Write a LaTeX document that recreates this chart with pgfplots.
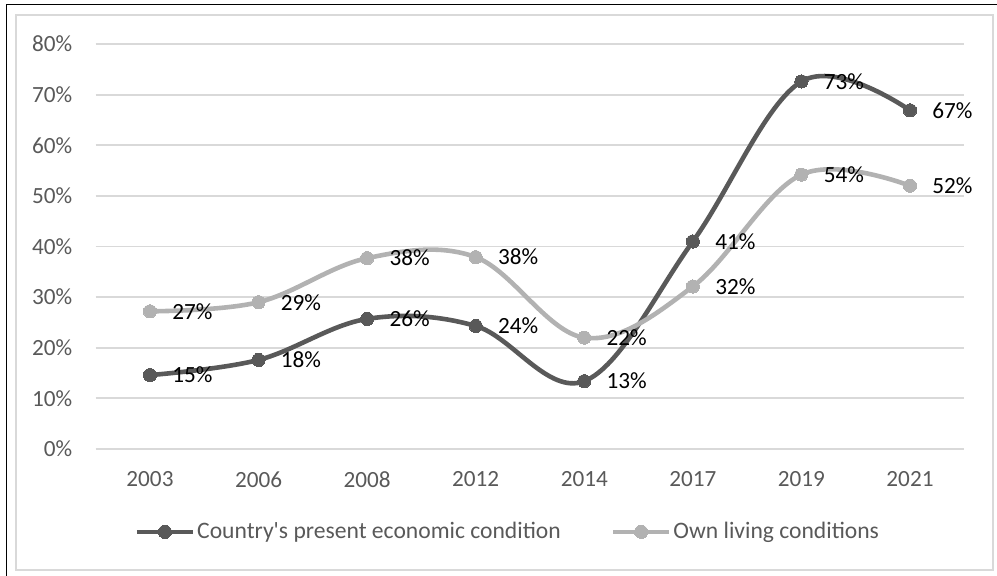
\documentclass[border=0pt]{standalone}
\usepackage{pgfplots}
\pgfplotsset{compat=1.18}
\usepackage{pgfplotstable}
\usepackage{fontspec}
\setmainfont{Carlito}
\newfontfamily\rawfont{Carlito}[Ligatures=ResetAll]
\definecolor{darkline}{RGB}{89,89,89}
\definecolor{lightline}{RGB}{178,178,178}
\definecolor{gridc}{RGB}{217,217,217}
\definecolor{txt}{RGB}{89,89,89}

\pgfplotstableread{
x y lab
0 14.6 15\%
1 17.6 18\%
2 25.7 26\%
3 24.3 24\%
4 13.4 13\%
5 41.0 41\%
6 72.6 73\%
7 66.9 67\%
}\country
\pgfplotstableread{
x y lab
0 27.2 27\%
1 29.0 29\%
2 37.7 38\%
3 37.9 38\%
4 22.0 22\%
5 32.1 32\%
6 54.2 54\%
7 52.0 52\%
}\own

\begin{document}
\fontsize{11.5pt}{13pt}\selectfont
\begin{tikzpicture}
\useasboundingbox (-47.85pt,-63pt) rectangle (450.65pt,224.5pt);
\draw[gridc, line width=1pt] (-39.85pt,-60.5pt) rectangle (448.5pt,217pt);
\draw[black, line width=0.8pt] (-44.6pt,-80pt) -- (-44.6pt,222.35pt) -- (470pt,222.35pt);
\begin{axis}[
  at={(0pt,0pt)}, anchor=south west,
  scale only axis, width=434.3pt, height=202.5pt,
  xmin=-0.5, xmax=7.5, ymin=0, ymax=80,
  xtick={0,...,7},
  xticklabels={2003,2006,2008,2012,2014,2017,2019,2021},
  ytick={0,10,...,80},
  yticklabel={\pgfmathprintnumber{\tick}\%},
  /pgf/number format/assume math mode=true,
  axis line style={draw=none},
  major tick length=0pt,
  ymajorgrids, grid style={gridc, line width=0.9pt},
  tick label style={font=\fontsize{11.6pt}{13pt}\selectfont, text=txt, inner sep=0pt},
  xticklabel style={yshift=-11pt},
  yticklabel style={xshift=-11.5pt},
  clip=false,
  legend columns=2,
  legend style={at={(0.4745,-0.2045)}, anchor=center, draw=none, fill=none,
    font=\fontsize{11.8pt}{13pt}\selectfont, text=txt,
    /tikz/every even column/.append style={column sep=24pt},
    nodes={inner sep=1pt}},
  legend image code/.code={\draw[mark repeat=2,mark phase=2,#1] plot coordinates {(0pt,0pt) (14pt,0pt) (28pt,0pt)};},
]
\addplot[darkline, line width=2.3pt, smooth, tension=0.6, mark=*, mark size=3.3pt, mark options={solid, fill=darkline, draw=darkline, line width=0pt}] table[x=x,y=y] {\country};
\addlegendentry{{\rawfont Country's present economic condition}}
\addplot[lightline, line width=2.3pt, smooth, tension=0.6, mark=*, mark size=3.3pt, mark options={solid, fill=lightline, draw=lightline, line width=0pt}] table[x=x,y=y] {\own};
\addlegendentry{Own living conditions}
\addplot[draw=none, forget plot, point meta=explicit symbolic,
  nodes near coords, every node near coord/.append style={anchor=west, xshift=11pt, inner sep=0pt, text=black, font=\fontsize{11.6pt}{13pt}\selectfont}]
  table[x=x,y=y,meta=lab] {\country};
\addplot[draw=none, forget plot, point meta=explicit symbolic,
  nodes near coords, every node near coord/.append style={anchor=west, xshift=11pt, inner sep=0pt, text=black, font=\fontsize{11.6pt}{13pt}\selectfont}]
  table[x=x,y=y,meta=lab] {\own};
\end{axis}
\end{tikzpicture}
\end{document}
